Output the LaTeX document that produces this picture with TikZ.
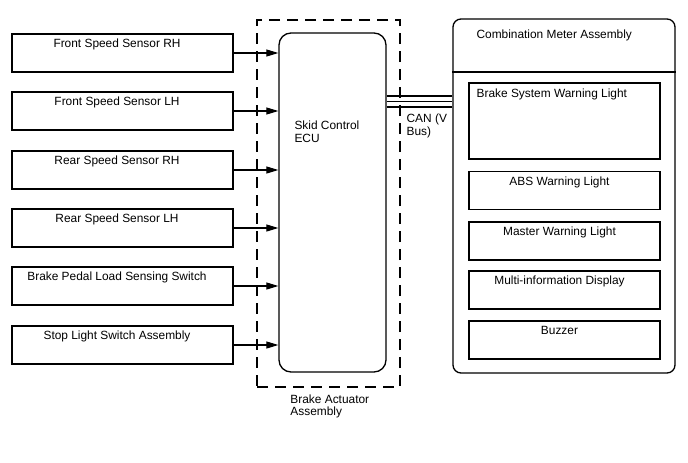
\documentclass[tikz,border=0pt]{standalone}
\usepackage{fontspec}
\setmainfont{Liberation Sans}
\usetikzlibrary{arrows.meta}

\tikzset{
  boxtext/.style={anchor=north, inner sep=5.5pt},
  sensorbox/.style={draw, line width=1.1pt, minimum width=221pt, minimum height=38pt,
    inner sep=0pt, label={[boxtext, xshift=-5.5pt]north:#1}},
  lampbox/.style={draw, line width=1.1pt, minimum width=191pt, minimum height=38pt,
    inner sep=0pt, label={[boxtext, xshift=-5pt]north:#1}},
  signal/.style={-{Triangle[length=12pt,width=7pt]}, line width=1.1pt},
  canline/.style={line width=#1},
}

\begin{document}
\begin{tikzpicture}[x=1pt, y=-1pt, font=\fontsize{11.9pt}{12.5pt}\selectfont]
\useasboundingbox (0,0) rectangle (688,463);

% sensors and switches
\node[sensorbox={Front Speed Sensor RH}] (frs) at (122.5,53) {};
\node[sensorbox={Front Speed Sensor LH}] (fls) at (122.5,111) {};
\node[sensorbox={Rear Speed Sensor RH}] (rrs) at (122.5,170) {};
\node[sensorbox={Rear Speed Sensor LH}] (rls) at (122.5,228) {};
\node[sensorbox={Brake Pedal Load Sensing Switch}] (pedal) at (122.5,286) {};
\node[sensorbox={Stop Light Switch Assembly}] (stop) at (122.5,345) {};

% brake actuator with skid control ecu
\node[draw, line width=1.5pt, dash pattern=on 11pt off 7pt, minimum width=143pt,
  minimum height=367pt, inner sep=0pt,
  label={[anchor=north west, align=left, inner sep=4.5pt, xshift=29.5pt, yshift=-2.25pt]south west:Brake Actuator\\Assembly}]
  (actuator) at (328.5,203.5) {};
\node[draw, line width=1.3pt, rounded corners=12pt, minimum width=107pt,
  minimum height=339pt, inner sep=0pt,
  label={[anchor=north west, align=left, inner sep=4.5pt, xshift=11.5pt, yshift=-84pt]north west:Skid Control\\ECU}]
  (ecu) at (332.5,202.5) {};

\draw[signal] (frs) -- (frs -| ecu.west);
\draw[signal] (fls) -- (fls -| ecu.west);
\draw[signal] (rrs) -- (rrs -| ecu.west);
\draw[signal] (rls) -- (rls -| ecu.west);
\draw[signal] (pedal) -- (pedal -| ecu.west);
\draw[signal] (stop) -- (stop -| ecu.west);

% combination meter
\node[draw, line width=1.3pt, rounded corners=8pt, minimum width=222pt,
  minimum height=354pt, inner sep=0pt,
  label={[anchor=north west, inner sep=4.5pt, xshift=19.5pt, yshift=-6.75pt]north west:Combination Meter Assembly}]
  (meter) at (564,196) {};
\coordinate (divider) at (564,72);
\draw[line width=1.1pt] (meter.west |- divider) -- (meter.east |- divider);

\node[draw, line width=1.1pt, minimum width=191pt, minimum height=76pt, inner sep=0pt,
  label={[anchor=north west, inner sep=4.5pt, xshift=3.5pt, yshift=-2pt]north west:Brake System Warning Light}]
  (brakelamp) at (564.5,121) {};
\node[lampbox={ABS Warning Light}] (abslamp) at (564.5,190.5) {};
\node[lampbox={Master Warning Light}] (masterlamp) at (564.5,241) {};
\node[lampbox={Multi-information Display}] (mid) at (564.5,290) {};
\node[lampbox={Buzzer}] (buzzer) at (564.5,340) {};

% can bus
\coordinate (can1) at (420,96);
\coordinate (can2) at (420,101);
\coordinate (can3) at (420,106.5);
\draw[canline=2pt] (ecu.east |- can1) -- (meter.west |- can1);
\draw[canline=1pt] (ecu.east |- can2) -- (meter.west |- can2);
\draw[canline=2pt] (ecu.east |- can3) -- (meter.west |- can3)
  node[pos=0, anchor=north west, align=left, inner sep=4.5pt, xshift=14.5pt, yshift=-2.25pt] (canlabel) {CAN (V\\Bus)};

\end{tikzpicture}
\end{document}
